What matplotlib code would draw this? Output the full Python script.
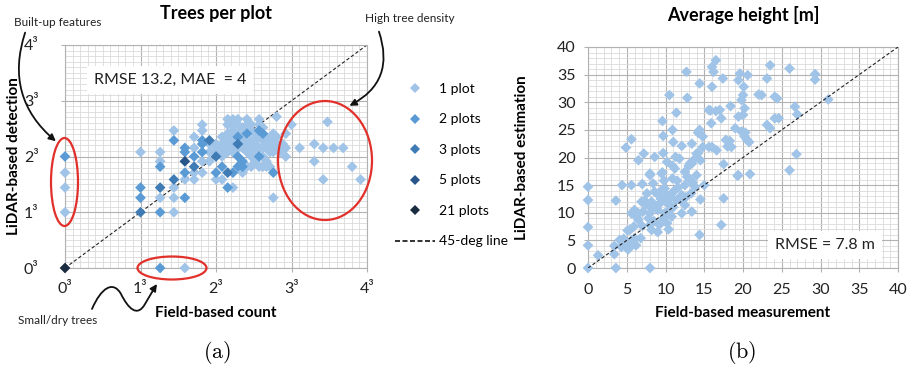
import numpy as np
import matplotlib
matplotlib.use("Agg")
import matplotlib.pyplot as plt
from matplotlib.transforms import Affine2D
from matplotlib.patches import Ellipse, FancyArrowPatch
from matplotlib.path import Path
from matplotlib.lines import Line2D

plt.rcParams['font.family'] = ['Lato', 'DejaVu Sans']
plt.rcParams['mathtext.fontset'] = 'cm'

# ---------------- data: trees per plot (counts) ----------------
field_count = [0, 0, 0, 0, 0, 2, 4,
               1, 1, 1, 1,
               2, 2, 2, 2, 2, 2,
               3, 3, 3, 3, 3, 3,
               4, 4, 4, 4, 4, 4,
               5, 5, 5, 5, 5, 5,
               6, 6, 6, 6, 6, 6, 6,
               7, 7, 7, 7,
               8, 8, 8, 8, 8, 8,
               9, 9, 9, 9, 9, 9,
               10, 10, 10, 10, 10, 10, 10, 10,
               11, 11, 11, 11, 11, 11, 11, 11,
               12, 12, 12, 12, 12, 12, 12, 12,
               13, 13, 13, 13, 13, 13, 13,
               14, 14, 14, 14, 14, 14,
               15, 15, 15, 15, 15, 15,
               16, 16, 16, 16, 16,
               17, 17, 17, 17, 17, 17, 17,
               18, 18, 18, 18, 18, 18,
               19, 19, 19, 19, 19,
               20, 20, 20, 20,
               21, 21, 21, 21, 21,
               22, 22, 22, 22,
               23, 23, 24, 25, 25, 25, 27,
               30, 36, 40, 42, 45, 50, 36, 40, 55, 60]
lidar_count = [8, 5, 3, 1, 0, 0, 0,
               9, 3, 2, 1,
               9, 7, 6, 3, 2, 1,
               15, 12, 4, 3, 2, 1,
               10, 9, 7, 5, 4, 2,
               13, 10, 8, 6, 5, 4,
               17, 12, 11, 9, 7, 5, 15,
               12, 11, 9, 7,
               11, 10, 9, 8, 5, 4,
               13, 11, 10, 8, 6, 4,
               19, 17, 14, 12, 10, 9, 5, 3,
               19, 17, 15, 13, 11, 9, 5, 3,
               19, 17, 14, 13, 11, 10, 8, 6,
               16, 13, 12, 10, 7, 6, 5,
               19, 17, 14, 11, 9, 6,
               17, 15, 12, 10, 8, 6,
               14, 12, 11, 9, 7,
               19, 15, 13, 10, 8, 6, 17,
               14, 12, 10, 8, 6, 16,
               13, 11, 10, 7, 6,
               12, 10, 9, 6,
               14, 10, 9, 5, 2,
               20, 13, 11, 10,
               10, 9, 11, 10, 8, 14, 17,
               10, 11, 10, 18, 10, 10, 7, 4, 6, 4]
n_plots = [2, 1, 1, 1, 21, 2, 1,
           1, 2, 2, 3,
           1, 1, 2, 3, 1, 2,
           1, 2, 3, 1, 1, 1,
           2, 2, 5, 2, 1, 2,
           1, 1, 2, 3, 1, 1,
           1, 2, 2, 2, 1, 1, 1,
           3, 1, 1, 1,
           1, 1, 1, 3, 2, 1,
           1, 1, 1, 1, 2, 1,
           1, 1, 1, 1, 1, 1, 3, 2,
           1, 1, 1, 1, 1, 1, 2, 1,
           1, 1, 1, 2, 3, 1, 2, 2,
           1, 1, 1, 1, 2, 2, 1,
           1, 1, 2, 1, 1, 1,
           1, 1, 1, 1, 1, 1,
           1, 1, 1, 1, 1,
           1, 2, 1, 1, 2, 1, 1,
           2, 1, 1, 1, 1, 1,
           1, 1, 1, 1, 1,
           1, 1, 1, 1,
           1, 1, 1, 2, 1,
           1, 1, 1, 1,
           1, 1, 1, 1, 1, 1, 1,
           1, 1, 1, 1, 1, 1, 1, 1, 1, 1]
plot_levels = [1, 2, 3, 5, 21]
level_labels = ['1 plot', '2 plots', '3 plots', '5 plots', '21 plots']
level_colors = ['#a0c3e8', '#5b9bd5', '#3f7bb4', '#29568a', '#1b2b40']

count_ticks = [0, 1, 8, 27, 64]
count_ticklabels = ['0\u00b3', '1\u00b3', '2\u00b3', '3\u00b3', '4\u00b3']

# ---------------- data: average height [m] ----------------
field_h = [0, 0, 0, 0, 0, 1.3, 3.4, 3.4, 3.6, 3.6, 4.4, 5.6, 7.0, 8.0,
           4.1, 4.5, 4.8, 5.0, 5.3, 5.6, 5.2, 4.3, 5.8, 6.0, 4.6, 5.5, 6.2, 5.1,
           5.4, 5.6, 6.5, 6.5, 5.9, 7.1, 6.9, 6.3, 7.0, 6.8, 8.0, 8.0, 8.2, 9.0,
           7.6, 8.4, 8.2, 8.2, 8.6, 9.1, 9.3, 9.5, 9.9, 10.2, 10.4, 10.8, 9.9,
           9.7, 10.2, 10.4, 10.8, 11.2, 11.4, 12.1, 12.5, 12.5, 12.1, 13.4, 14.4,
           13.3, 13.8, 14.5, 13.4, 13.8, 14.2, 12.5, 11.2, 10.2, 6.5, 8.6, 9.7,
           8.0, 9.5, 17.5, 19.3, 17.5, 17.2,
           8.8, 9.0, 9.4, 10.0, 10.6, 11.0, 11.6, 12.0, 10.9, 11.5, 10.5, 8.5,
           9.2, 7.5, 7.8, 12.8, 13.2, 13.5, 14.0, 13.0, 11.8, 10.9, 14.5, 15.0,
           12.6, 9.8, 7.3, 6.0,
           4.9, 5.6, 7.2, 8.0, 9.6, 9.7, 9.6, 10.5, 10.9, 11.0, 11.4, 11.3,
           12.7, 12.8, 12.1, 13.4, 14.4, 14.4, 14.8, 14.0, 14.8, 15.6, 16.0,
           15.6, 15.9, 16.0, 16.0, 16.2, 16.5, 17.0, 17.2, 17.4, 16.6, 17.8,
           18.4, 18.5, 18.3, 19.0, 19.4, 19.6, 19.4, 19.4, 19.8, 20.0, 20.1,
           20.2, 20.0, 19.8, 20.2, 20.5, 20.6, 20.9, 22.0, 22.4, 23.1, 23.5,
           23.1, 23.5, 24.1, 24.4, 24.1, 24.6, 26.0, 26.0, 26.7, 27.0, 26.9,
           29.3, 29.3, 31.0, 15.8, 16.5, 18.0, 20.3, 20.8, 13.2, 14.2]
lidar_h = [0, 14.7, 12.3, 7.4, 4.1, 2.3, 4.0, 2.5, 0, 12.2, 15.0, 15.0, 15.2, 0,
           5.1, 4.6, 4.0, 3.6, 4.4, 5.0, 3.4, 3.8, 4.7, 5.4, 5.3, 3.9, 4.1, 6.8,
           6.9, 9.9, 9.9, 8.7, 7.5, 10.2, 12.0, 9.2, 7.6, 5.4, 9.9, 7.8, 6.9, 6.5,
           13.5, 15.3, 12.0, 10.8, 13.8, 13.2, 11.7, 14.1, 14.4, 13.2, 11.7, 13.5,
           9.9, 9.0, 8.1, 7.0, 9.3, 14.1, 12.3, 13.2, 15.0, 11.4, 9.9, 10.2, 6.0,
           13.5, 14.7, 12.4, 18.9, 19.8, 20.8, 17.4, 18.0, 19.2, 19.5, 20.1, 20.8,
           16.8, 17.1, 18.8, 16.7, 12.6, 7.8,
           11.2, 10.5, 12.5, 12.0, 12.8, 11.0, 14.5, 12.3, 16.2, 15.8, 10.5, 8.5,
           7.8, 11.5, 9.0, 16.5, 16.0, 15.5, 16.8, 18.5, 19.8, 18.5, 19.5, 15.0,
           12.8, 15.8, 12.2, 10.5,
           21.8, 23.3, 20.7, 17.1, 26.6, 23.9, 17.3, 31.3, 25.0, 22.8, 28.1, 20.1,
           35.5, 30.8, 22.1, 22.5, 33.4, 25.0, 23.8, 20.7, 21.9, 21.9, 21.9,
           28.6, 26.2, 32.8, 36.4, 35.5, 37.6, 28.6, 27.1, 34.3, 21.3, 23.2,
           29.3, 21.9, 23.0, 25.3, 27.4, 35.2, 34.0, 16.8, 30.4, 31.3, 32.8,
           28.9, 27.7, 24.7, 23.8, 23.2, 34.9, 17.0, 31.4, 31.3, 34.3, 36.7,
           25.9, 25.3, 31.0, 30.7, 27.1, 27.1, 36.1, 17.7, 29.2, 27.8, 20.6,
           35.1, 34.1, 30.5, 28.5, 28.4, 22.0, 24.5, 22.8, 19.0, 24.5]
height_ticks = [0, 5, 10, 15, 20, 25, 30, 35, 40]

# ---------------- figure ----------------
W, H = 911, 372
fig = plt.figure(figsize=(W / 100, H / 100), dpi=100)
pix = Affine2D().scale(1 / W, -1 / H).translate(0, 1) + fig.transFigure

MAJ = '#b2b2b2'
MIN = '#dadada'


def style_axes(ax):
    ax.set_axisbelow(True)
    ax.grid(which='major', color=MAJ, lw=0.8)
    ax.grid(which='minor', color=MIN, lw=0.6)
    for s in ax.spines.values():
        s.set_color(MAJ)
        s.set_linewidth(0.8)
    ax.tick_params(which='major', length=3, color=MAJ, labelsize=11.5, labelcolor='#222222')
    ax.tick_params(which='minor', length=0)


# ----- left: trees per plot -----
ax1 = fig.add_axes([65 / W, 1 - 268 / H, 302 / W, 223 / H])
ax1.set_xscale('function', functions=(np.cbrt, lambda v: v ** 3))
ax1.set_yscale('function', functions=(np.cbrt, lambda v: v ** 3))
ax1.set_xlim(0, 64)
ax1.set_ylim(0, 64)
minor_pos = [(k / 10) ** 3 for k in range(41)]
ax1.set_xticks(minor_pos, minor=True)
ax1.set_yticks(minor_pos, minor=True)
ax1.set_xticks(count_ticks)
ax1.set_xticklabels(count_ticklabels)
ax1.set_yticks(count_ticks)
ax1.set_yticklabels(count_ticklabels)
style_axes(ax1)
ax1.tick_params(axis='x', pad=7)
ax1.tick_params(axis='y', pad=16)

fc = np.array(field_count)
lc = np.array(lidar_count)
npl = np.array(n_plots)
ax1.plot([0, 64], [0, 64], ls=(0, (3, 2)), color='#222222', lw=0.8, zorder=2)
for lev, col in zip(plot_levels, level_colors):
    m = npl == lev
    ax1.scatter(fc[m], lc[m], marker='D', s=30, color=col, edgecolors='none', zorder=3,
                clip_on=False)
ax1.set_title('Trees per plot', fontsize=13, fontweight='bold', pad=19)
ax1.set_xlabel('Field-based count', fontsize=11, fontweight='bold', labelpad=7)
ax1.set_ylabel('LiDAR-based detection', fontsize=11, fontweight='bold', labelpad=2)

# legend
handles = [Line2D([], [], ls='none', marker='D', markersize=5.5, color=c, markeredgewidth=0)
           for c in level_colors]
handles.append(Line2D([], [], ls=(0, (3, 1.5)), color='#111111', lw=1.2))
labels = level_labels + ['45-deg line']
fig.legend(handles, labels, loc='upper left', bbox_to_anchor=(395 / W, 1 - 83 / H),
           frameon=False, fontsize=10, handlelength=2.9, handletextpad=0.3,
           labelspacing=1.33, borderpad=0, borderaxespad=0)

# ----- right: average height -----
ax2 = fig.add_axes([588 / W, 1 - 268 / H, 310 / W, 221 / H])
ax2.set_xlim(0, 40)
ax2.set_ylim(0, 40)
ax2.set_xticks(height_ticks)
ax2.set_yticks(height_ticks)
ax2.set_xticks(range(41), minor=True)
ax2.set_yticks(range(41), minor=True)
style_axes(ax2)
ax2.tick_params(axis='x', pad=8)
ax2.tick_params(axis='y', pad=6)
ax2.plot([0, 40], [0, 40], ls=(0, (3, 2)), color='#222222', lw=0.8, zorder=4)
ax2.scatter(field_h, lidar_h, marker='D', s=30, color='#a0c3e8', edgecolors='none',
            zorder=3, clip_on=False)
ax2.set_title('Average height [m]', fontsize=13, fontweight='bold', pad=19)
ax2.set_xlabel('Field-based measurement', fontsize=11, fontweight='bold', labelpad=6)
ax2.set_ylabel('LiDAR-based estimation', fontsize=11, fontweight='bold', labelpad=20)

# ----- boxes -----
fig.text(170, 80, 'RMSE 13.2, MAE  = 4', transform=pix, ha='center', va='center',
         fontsize=11.5, color='#222222',
         bbox=dict(fc='white', ec='none', boxstyle='square,pad=0.45'))
fig.text(825, 245, 'RMSE = 7.8 m', transform=pix, ha='center', va='center',
         fontsize=11.5, color='#222222',
         bbox=dict(fc='white', ec='none', boxstyle='square,pad=0.45'))

# ----- captions -----
fig.text(217, 353, r'$\mathrm{(a)}$', transform=pix, ha='center', va='center', fontsize=16)
fig.text(742, 353, r'$\mathrm{(b)}$', transform=pix, ha='center', va='center', fontsize=16)

# ----- annotations -----
RED = '#e2302b'
for (cx, cy, w, h) in [(64.5, 182, 27, 88), (172, 268, 69, 23), (325, 160.5, 94, 119)]:
    fig.add_artist(Ellipse((cx, cy), w, h, transform=pix, fill=False, ec=RED, lw=1.6))

fig.text(58, 22, 'Built-up features', transform=pix, ha='center', va='center', fontsize=8.5,
         color='#222222')
fig.text(410, 18, 'High tree density', transform=pix, ha='center', va='center', fontsize=8.5,
         color='#222222')
fig.text(58, 320, 'Small/dry trees', transform=pix, ha='center', va='center', fontsize=8.5,
         color='#222222')

fig.add_artist(FancyArrowPatch((26, 30), (58, 143), connectionstyle='arc3,rad=0.35',
                               arrowstyle='-|>', mutation_scale=10, lw=1.3, color='#111111',
                               transform=pix))
fig.add_artist(FancyArrowPatch((378, 29), (347, 107), connectionstyle='arc3,rad=-0.45',
                               arrowstyle='-|>', mutation_scale=10, lw=1.3, color='#111111',
                               transform=pix))
verts = [(92, 309), (101, 288), (113, 280), (121, 294),
         (128, 308), (137, 318), (145, 304),
         (150, 296), (153, 290), (157, 284)]
codes = [Path.MOVETO] + [Path.CURVE4] * 9
fig.add_artist(FancyArrowPatch(path=Path(verts, codes), arrowstyle='-|>', mutation_scale=10,
                               lw=1.3, color='#111111', transform=pix))

fig.savefig('out.png', dpi=100)
